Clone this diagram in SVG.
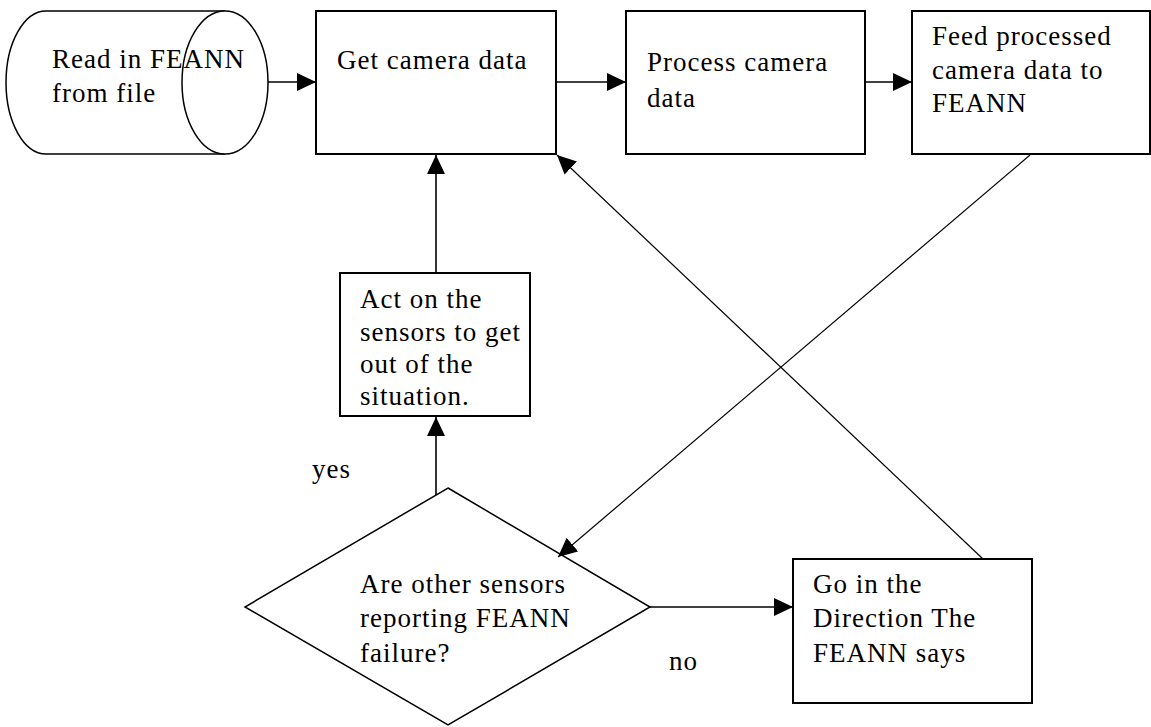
<svg xmlns="http://www.w3.org/2000/svg" width="1151" height="727" viewBox="0 0 1151 727">
  <style>
    .box { fill: #fff; stroke: #000; stroke-width: 2; }
    .shape { fill: #fff; stroke: #000; stroke-width: 1.5; }
    .lbl { font-family: "Liberation Serif", "Times New Roman", serif; font-size: 27px; letter-spacing: 1px; fill: #000; }
    .conn { fill: none; stroke: #000; stroke-width: 1.6; }
    .thin { fill: none; stroke: #000; stroke-width: 1.2; }
  </style>
  <defs>
    <marker id="arrow" markerUnits="userSpaceOnUse" markerWidth="20" markerHeight="18" refX="19" refY="9" orient="auto">
      <path d="M0,0 L19,9 L0,18 Z" fill="#000"/>
    </marker>
  </defs>
  <rect width="1151" height="727" fill="#fff"/>

  <!-- Cylinder: read network from file -->
  <g id="read-feann">
    <path class="shape" d="M225,11 L46,11 A40,71.5 0 0 0 46,154 L225,154"/>
    <ellipse class="shape" cx="225" cy="82.5" rx="43" ry="71.5"/>
    <text class="lbl" x="52" y="68">Read in FEANN</text>
    <text class="lbl" x="52" y="102">from file</text>
  </g>

  <g id="get-camera">
    <rect class="box" x="316" y="11" width="240" height="143"/>
    <text class="lbl" x="337" y="69">Get camera data</text>
  </g>

  <g id="process-camera">
    <rect class="box" x="626" y="11" width="239" height="143"/>
    <text class="lbl" x="647" y="71">Process camera</text>
    <text class="lbl" x="647" y="107">data</text>
  </g>

  <g id="feed-feann">
    <rect class="box" x="912" y="11" width="238" height="143"/>
    <text class="lbl" x="932" y="45">Feed processed</text>
    <text class="lbl" x="932" y="79">camera data to</text>
    <text class="lbl" x="932" y="112">FEANN</text>
  </g>

  <g id="act-sensors">
    <rect class="box" x="340" y="273" width="190" height="143"/>
    <text class="lbl" x="360" y="308">Act on the</text>
    <text class="lbl" x="360" y="341">sensors to get</text>
    <text class="lbl" x="360" y="373">out of the</text>
    <text class="lbl" x="360" y="405">situation.</text>
  </g>

  <g id="decision">
    <polygon class="shape" points="448,488 650,607 448,725 245,607"/>
    <text class="lbl" x="360" y="593">Are other sensors</text>
    <text class="lbl" x="360" y="627">reporting FEANN</text>
    <text class="lbl" x="360" y="662">failure?</text>
  </g>

  <g id="go-direction">
    <rect class="box" x="793" y="559" width="239" height="144"/>
    <text class="lbl" x="813" y="593">Go in the</text>
    <text class="lbl" x="813" y="627">Direction The</text>
    <text class="lbl" x="813" y="662">FEANN says</text>
  </g>

  <g id="labels">
    <text class="lbl" x="312" y="478">yes</text>
    <text class="lbl" x="669" y="670">no</text>
  </g>

  <g id="connectors">
    <line class="conn" x1="268" y1="82" x2="316" y2="82" marker-end="url(#arrow)"/>
    <line class="conn" x1="556" y1="82" x2="626" y2="82" marker-end="url(#arrow)"/>
    <line class="conn" x1="865" y1="82" x2="912" y2="82" marker-end="url(#arrow)"/>
    <line class="thin" x1="1030" y1="155" x2="558" y2="557" marker-end="url(#arrow)"/>
    <line class="conn" x1="436" y1="273" x2="436" y2="155" marker-end="url(#arrow)"/>
    <line class="conn" x1="436" y1="495" x2="436" y2="417" marker-end="url(#arrow)"/>
    <line class="conn" x1="650" y1="607" x2="793" y2="607" marker-end="url(#arrow)"/>
    <line class="thin" x1="983" y1="559" x2="557" y2="155" marker-end="url(#arrow)"/>
  </g>
</svg>
